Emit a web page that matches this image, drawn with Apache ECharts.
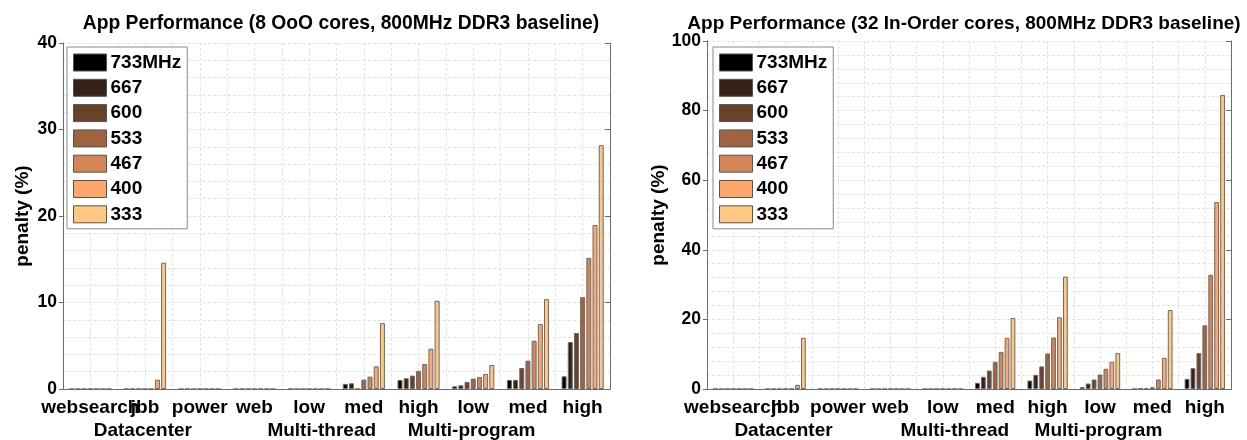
<!DOCTYPE html>
<html>
<head>
<meta charset="utf-8">
<script src="https://cdn.jsdelivr.net/npm/echarts@6/dist/echarts.min.js"></script>
<style>
  html, body { margin: 0; padding: 0; background: #fff; }
  #chart { width: 1247px; height: 440px; }
</style>
</head>
<body>
<div id="chart"></div>
<script>
// Workload categories along the x axis
const categories = ['websearch', 'jbb', 'power', 'web', 'low', 'med', 'high', 'low', 'med', 'high'];
// Workload group captions and their position in category units (0..10)
const groupNames = ['Datacenter', 'Multi-thread', 'Multi-program'];
const groupPos = [1.46, 4.73, 7.47];
// DRAM frequencies (series)
const freqs = ['733MHz', '667', '600', '533', '467', '400', '333'];
// Copper-style palette, darkest to lightest
const colors = ['#000000', '#352115', '#6a422a', '#9f643f', '#d48555', '#ffa66a', '#ffc77f'];

// Penalty (%) for 8 OoO cores
const ooo733 = [0, 0, 0, 0, 0, 0.59, 1.05, 0.31, 1.05, 1.47];
const ooo667 = [0, 0, 0, 0, 0, 0.66, 1.24, 0.43, 1.05, 5.43];
const ooo600 = [0, 0, 0, 0, 0, 0, 1.55, 0.82, 2.43, 6.47];
const ooo533 = [0, 0, 0, 0, 0, 1.08, 2.09, 1.2, 3.27, 10.62];
const ooo467 = [0, 0, 0, 0, 0, 1.43, 2.9, 1.39, 5.58, 15.16];
const ooo400 = [0, 1.08, 0, 0, 0, 2.62, 4.66, 1.74, 7.5, 18.96];
const ooo333 = [0, 14.6, 0, 0, 0, 7.62, 10.2, 2.78, 10.39, 28.19];

// Penalty (%) for 32 in-order cores
const ino733 = [0, 0, 0, 0, 0, 1.78, 2.44, 0.53, 0, 2.92];
const ino667 = [0, 0, 0, 0, 0, 3.5, 4.07, 1.58, 0.2, 5.98];
const ino600 = [0, 0, 0, 0, 0, 5.3, 6.5, 2.73, 0.3, 10.3];
const ino533 = [0, 0, 0, 0, 0, 7.8, 10.2, 4.16, 0.5, 18.3];
const ino467 = [0, 0, 0, 0, 0, 10.67, 14.8, 5.8, 2.73, 32.8];
const ino400 = [0, 1.2, 0, 0, 0, 14.7, 20.6, 7.8, 8.95, 53.7];
const ino333 = [0, 14.7, 0, 0, 0, 20.4, 32.3, 10.3, 22.7, 84.5];

const oooData = [ooo733, ooo667, ooo600, ooo533, ooo467, ooo400, ooo333];
const inoData = [ino733, ino667, ino600, ino533, ino467, ino400, ino333];

// Y axis ranges
const yMaxLeft = 40, yStepLeft = 10;
const yMaxRight = 100, yStepRight = 20;

const titles = [
  'App Performance (8 OoO cores, 800MHz DDR3 baseline)',
  'App Performance (32 In-Order cores, 800MHz DDR3 baseline)'
];

const FONT = '"Liberation Sans", Arial, sans-serif';
const AXIS_COLOR = '#6b6b6b';
const GRID_LINE = { lineStyle: { color: '#e3e3e3', type: [3, 2], width: 1 } };

const grids = [
  { left: 63, right: 637, top: 43, bottom: 51 },
  { left: 707, right: 16, top: 41, bottom: 51 }
];

function xAxesFor(gi) {
  return [
    { // bottom category axis with labels
      type: 'category', gridIndex: gi, position: 'bottom', data: categories,
      axisLine: { lineStyle: { color: AXIS_COLOR } },
      axisTick: { inside: true, alignWithLabel: true, length: 5, lineStyle: { color: AXIS_COLOR } },
      axisLabel: { color: '#000', fontWeight: 'bold', fontSize: 19, fontFamily: FONT, margin: 9, interval: 0 },
      splitLine: { show: false }
    },
    { // top frame edge
      type: 'category', gridIndex: gi, position: 'top', data: categories,
      axisLine: { lineStyle: { color: AXIS_COLOR } },
      axisTick: { inside: true, alignWithLabel: true, length: 4, lineStyle: { color: AXIS_COLOR } },
      axisLabel: { show: false },
      splitLine: { show: false }
    },
    { // half-category vertical grid
      type: 'value', gridIndex: gi, position: 'bottom', min: 0, max: categories.length, interval: 0.5,
      axisLine: { show: false }, axisTick: { show: false }, axisLabel: { show: false },
      splitLine: Object.assign({ show: true }, GRID_LINE)
    }
  ];
}

function yAxesFor(gi, max, step, nameGap) {
  return [
    {
      type: 'value', gridIndex: gi, position: 'left', min: 0, max: max, interval: step,
      name: 'penalty (%)', nameLocation: 'middle', nameGap: nameGap,
      nameTextStyle: { color: '#000', fontWeight: 'bold', fontSize: 19, fontFamily: FONT },
      axisLine: { show: true, lineStyle: { color: AXIS_COLOR } },
      axisTick: { show: true, inside: false, length: 4, lineStyle: { color: AXIS_COLOR } },
      axisLabel: { color: '#000', fontWeight: 'bold', fontSize: 17.5, fontFamily: FONT, margin: 6 },
      splitLine: Object.assign({ show: true }, GRID_LINE),
      minorTick: { show: false, splitNumber: 5 },
      minorSplitLine: Object.assign({ show: true }, GRID_LINE)
    },
    {
      type: 'value', gridIndex: gi, position: 'right', min: 0, max: max, interval: step,
      axisLine: { show: true, lineStyle: { color: AXIS_COLOR } },
      axisTick: { show: true, inside: true, length: 5, lineStyle: { color: AXIS_COLOR } },
      axisLabel: { show: false },
      splitLine: { show: false }
    }
  ];
}

function seriesFor(data, xi, yi) {
  return data.map((vals, k) => ({
    type: 'bar', name: freqs[k], xAxisIndex: xi, yAxisIndex: yi,
    data: vals,
    barCategoryGap: '23%', barGap: '24%',
    itemStyle: { color: colors[k], borderColor: '#6a6a6a', borderWidth: 1 },
    emphasis: { disabled: true },
    animation: false
  }));
}

function legendFor(left) {
  return {
    orient: 'vertical', left: left, top: 47,
    data: freqs, icon: 'rect',
    itemWidth: 33, itemHeight: 17, itemGap: 6.3,
    padding: [6, 6, 5, 6],
    backgroundColor: '#fff', borderColor: '#8a8a8a', borderWidth: 1,
    itemStyle: { borderColor: '#555', borderWidth: 1 },
    textStyle: { color: '#000', fontWeight: 'bold', fontSize: 19, fontFamily: FONT, lineHeight: 17, padding: [0, 0, 0, -1] },
    selectedMode: false
  };
}

const chart = echarts.init(document.getElementById('chart'), null, { renderer: 'canvas' });

chart.setOption({
  animation: false,
  backgroundColor: '#fff',
  title: [
    { text: titles[0], left: 336, top: 9, textAlign: 'center',
      textStyle: { color: '#000', fontWeight: 'bold', fontSize: 19.3, fontFamily: FONT } },
    { text: titles[1], left: 959, top: 9, textAlign: 'center',
      textStyle: { color: '#000', fontWeight: 'bold', fontSize: 19, fontFamily: FONT } }
  ],
  legend: [legendFor(67), legendFor(713)],
  grid: grids,
  xAxis: xAxesFor(0).concat(xAxesFor(1)),
  yAxis: yAxesFor(0, yMaxLeft, yStepLeft, 31).concat(yAxesFor(1, yMaxRight, yStepRight, 38)),
  series: seriesFor(oooData, 0, 0).concat(seriesFor(inoData, 3, 2))
});

// Group captions under each chart, placed through the half-category value axes
function groupCaptions() {
  const els = [];
  [[2, 0], [5, 2]].forEach(([xi, yi]) => {
    const y0 = chart.convertToPixel({ yAxisIndex: yi }, 0);
    groupNames.forEach((name, i) => {
      const x = chart.convertToPixel({ xAxisIndex: xi }, groupPos[i]);
      els.push({
        type: 'text', x: x, y: y0 + 42,
        style: { text: name, fill: '#000', font: 'bold 19px ' + FONT, textAlign: 'center', textVerticalAlign: 'middle' },
        silent: true
      });
    });
  });
  return els;
}
chart.setOption({ graphic: groupCaptions() });
</script>
</body>
</html>
